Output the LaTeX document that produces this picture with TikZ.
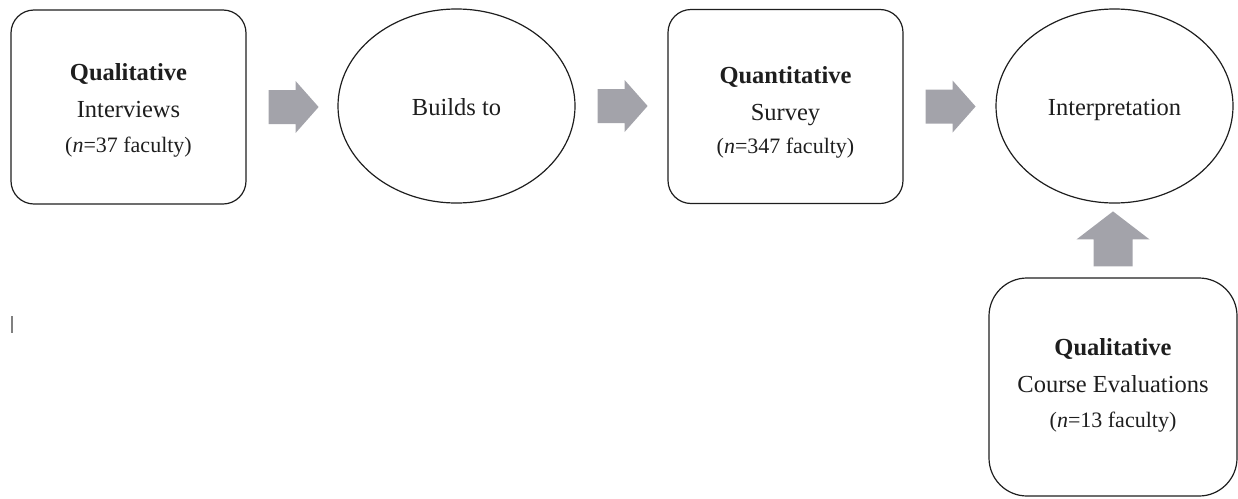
\documentclass[tikz,border=0pt]{standalone}
\usepackage{fontspec}
\setmainfont{Liberation Serif}
\usetikzlibrary{shapes.geometric,calc}
\definecolor{arrowgray}{RGB}{163,163,170}
\definecolor{boxline}{RGB}{30,30,30}
\begin{document}
\begin{tikzpicture}[x=1pt,y=-1pt,
  box/.style={draw=boxline, line width=1.2pt, rounded corners=23pt, minimum width=235pt, minimum height=194pt, inner sep=0pt},
  oval/.style={draw=boxline, line width=1.2pt, ellipse, minimum width=237pt, minimum height=194pt, inner sep=0pt},
  txt/.style={anchor=base, inner sep=0pt, text=boxline, font=\fontsize{24.5}{29}\selectfont},
  small/.style={anchor=base, inner sep=0pt, text=boxline, font=\fontsize{22}{26}\selectfont},
  blockarrow/.style={fill=arrowgray}]
\useasboundingbox (0,0) rectangle (1238,498);
\newcommand{\harrow}[1]{\fill[blockarrow] ($#1+(22,-17)$) -- ++(27,0) -- ++(0,-9) -- ++(23,26) -- ++(-23,26) -- ++(0,-9) -- ++(-27,0) -- cycle;}

% nodes
\node[box] (qual1) at (128.5,107) {};
\node[txt] (qual1a) at (128.5,80) {\bfseries Qualitative};
\node[txt] (qual1b) at (128.5,117) {Interviews};
\node[small] (qual1c) at (128.5,152) {(\textit{n}=37 faculty)};

\node[oval] (build) at (456.5,106) {};
\node[txt] (buildt) at (456.5,115) {Builds to};

\node[box] (quant) at (785.5,106.5) {};
\node[txt] (quanta) at (785.5,83) {\bfseries Quantitative};
\node[txt] (quantb) at (785.5,120) {Survey};
\node[small] (quantc) at (785.5,153) {(\textit{n}=347 faculty)};

\node[oval] (interp) at (1114.5,106) {};
\node[txt] (interpt) at (1114.5,115) {Interpretation};

\node[box, minimum width=248pt, minimum height=218pt, rounded corners=38pt] (qual2) at (1113,387) {};
\node[txt] (qual2a) at (1113,355) {\bfseries Qualitative};
\node[txt] (qual2b) at (1113,392) {Course Evaluations};
\node[small] (qual2c) at (1113,427) {(\textit{n}=13 faculty)};

% block arrows
\harrow{(qual1.east)}
\harrow{(build.east)}
\harrow{(quant.east)}
\fill[blockarrow] ($(qual2.north)+(-19.5,-11)$) -- ++(0,-27) -- ++(-17,0) -- ++(36.5,-28) -- ++(36.5,28) -- ++(-17,0) -- ++(0,27) -- cycle;

% stray cursor mark
\coordinate (barTop) at (12,316);
\coordinate (barBot) at (12,333);
\draw[gray, line width=1.5pt] (barTop) -- (barBot);
\end{tikzpicture}
\end{document}
